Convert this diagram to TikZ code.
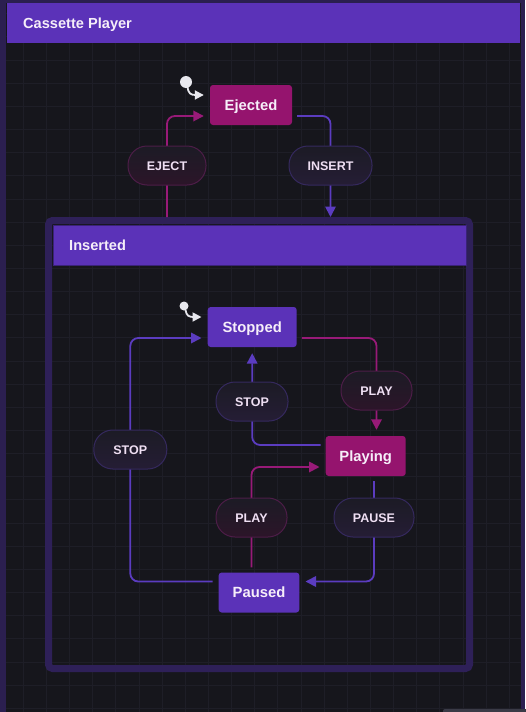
\documentclass[tikz,border=0pt]{standalone}
\usepackage{fontspec}
\setmainfont{Liberation Sans}
\usetikzlibrary{arrows.meta,calc}
\definecolor{bgc}{HTML}{16161C}
\definecolor{gridc}{HTML}{1E1E27}
\definecolor{outB}{HTML}{2B1F50}
\definecolor{hdrc}{HTML}{5B32B8}
\definecolor{hdrB}{HTML}{3A2378}
\definecolor{insB}{HTML}{2E2058}
\definecolor{magS}{HTML}{95146E}
\definecolor{purS}{HTML}{5B32B8}
\definecolor{edgP}{HTML}{5B3CC0}
\definecolor{edgM}{HTML}{981A78}
\definecolor{txtc}{HTML}{F6EEF9}
\definecolor{ptxt}{HTML}{EFDFF3}
\definecolor{pfillT}{HTML}{1C1B25}
\definecolor{pfillPB}{HTML}{251D35}
\definecolor{pfillMB}{HTML}{2C1529}
\definecolor{pbrdP}{HTML}{35295E}
\definecolor{pbrdM}{HTML}{4D1D48}
\definecolor{dotc}{HTML}{E8E8EE}
\definecolor{stripc}{HTML}{3A3A46}
\pgfdeclarelayer{bglayer}
\pgfdeclarelayer{edgelayer}
\pgfsetlayers{bglayer,edgelayer,main}
\begin{document}
\begin{tikzpicture}[x=1pt,y=-1pt,
  stateM/.style={rectangle, rounded corners=3pt, fill=magS, text=txtc,
    font=\bfseries\fontsize{14.8}{16}\selectfont, text height=10.6pt, text depth=0pt,
    minimum height=40pt, inner sep=0pt},
  stateP/.style={stateM, fill=purS},
  pill/.style={rectangle, rounded corners=19pt, minimum height=39pt, inner sep=0pt,
    font=\bfseries\fontsize{12.5}{14}\selectfont, text height=9pt, text depth=0pt,
    text=ptxt, line width=1pt},
  pillP/.style={pill, draw=pbrdP, top color=pfillT, bottom color=pfillPB},
  pillM/.style={pill, draw=pbrdM, top color=pfillT, bottom color=pfillMB},
  edgeP/.style={draw=edgP, line width=1.8pt, rounded corners=8pt, -{Triangle[length=10.5pt,width=10.5pt]}},
  edgeM/.style={edgeP, draw=edgM},
  initE/.style={draw=dotc, line width=1.8pt, -{Triangle[length=9pt,width=9pt]}},
  initdot/.style={circle, fill=dotc, inner sep=0pt},
  hdr/.style={rectangle, fill=hdrc, inner sep=0pt, anchor=north west},
  hdrtext/.style={anchor=west, text=txtc, inner sep=0pt, text height=10.4pt, text depth=0pt,
    font=\bfseries\fontsize{14.6}{16}\selectfont},
  frame/.style={rectangle, draw=insB, line width=7pt, rounded corners=4pt, inner sep=0pt}
]
\useasboundingbox (0,0) rectangle (525,712);
\begin{pgfonlayer}{bglayer}
  \fill[outB] (0,0) rectangle (525,712);
  \fill[bgc] (6,3) rectangle (521,712);
  \begin{scope}
    \clip (6,3) rectangle (521,712);
    \foreach \i in {1,...,22} \draw[gridc, line width=0.8pt] ({\i*23.15},0) -- ({\i*23.15},712);
    \foreach \j in {0,...,30} \draw[gridc, line width=0.8pt] (0,{13.7+\j*23.15}) -- (525,{13.7+\j*23.15});
  \end{scope}
  \fill[stripc, rounded corners=2pt] (443,709) rectangle (530,716);
  % outer header
  \node[hdr, minimum width=513pt, minimum height=40pt] (cph) at (7,3) {};
  \node[hdrtext] (cpt) at ($(cph.west)+(16,0)$) {Cassette Player};
  % inserted compound state
  \node[frame, minimum width=421pt, minimum height=448pt] (ins) at (259,444.5) {};
  \node[hdr, draw=hdrB, line width=0.8pt, minimum width=413pt, minimum height=40pt] (insh) at (52.7,225) {};
  \node[hdrtext] (inst) at ($(insh.west)+(16.3,0)$) {Inserted};
\end{pgfonlayer}

% states
\node[stateM, minimum width=82pt] (ej) at (251,105) {Ejected};
\node[stateP, minimum width=89pt] (st) at (252.2,327) {Stopped};
\node[stateM, minimum width=80pt] (pl) at (365.7,456) {Playing};
\node[stateP, minimum width=80.6pt] (pa) at (259,592.5) {Paused};

% initial dots
\node[initdot, minimum size=12pt] (i1) at (186,82) {};
\node[initdot, minimum size=9pt] (i2) at (184,306) {};

% transition labels
\node[pillM, minimum width=78pt] (pE) at (167,165.5) {EJECT};
\node[pillP, minimum width=83pt] (pI) at (330.5,165.5) {INSERT};
\node[pillM, minimum width=71pt] (pP1) at (376.5,390.5) {PLAY};
\node[pillP, minimum width=72pt] (pS2) at (252,401.5) {STOP};
\node[pillP, minimum width=73pt] (pS1) at (130.3,449.5) {STOP};
\node[pillM, minimum width=71pt] (pP2) at (251.5,517.5) {PLAY};
\node[pillP, minimum width=80pt] (pPa) at (374,517.5) {PAUSE};

\begin{pgfonlayer}{edgelayer}
  % initial arrows
  \draw[initE] ($(i1)+(1.5,5)$) .. controls ($(i1)+(2.5,12)$) and ($(i1)+(5,13)$) .. ($(i1)+(10,13)$) -- ($(ej.west)+(-6,-10)$);
  \draw[initE] ($(i2)+(1.5,4)$) .. controls ($(i2)+(2.5,10)$) and ($(i2)+(5,11)$) .. ($(i2)+(10,11)$) -- ($(st.west)+(-6,-10)$);
  % EJECT: Inserted -> Ejected
  \draw[edgeM] (ins.north -| pE) |- ($(ej.west)+(-6,11)$);
  % INSERT: Ejected -> Inserted
  \draw[edgeP] ($(ej.east)+(5,11)$) -| (ins.north -| pI);
  % PLAY: Stopped -> Playing
  \draw[edgeM] ($(st.east)+(5,11)$) -| ($(pl.north -| pP1)+(0,-6)$);
  % STOP: Playing -> Stopped
  \draw[edgeP] ($(pl.west)+(-5,-11)$) -| ($(st.south)+(0,6)$);
  % STOP: Paused -> Stopped
  \draw[edgeP] ($(pa.west)+(-6,-11)$) -| (pS1.center) |- ($(st.west)+(-6,11)$);
  % PLAY: Paused -> Playing
  \draw[edgeM] ($(pa.north -| pP2)+(0,-5)$) |- ($(pl.west)+(-6,11)$);
  % PAUSE: Playing -> Paused
  \draw[edgeP] ($(pl.south -| pPa)+(0,5)$) |- ($(pa.east)+(6,-11)$);
\end{pgfonlayer}
\end{tikzpicture}
\end{document}
